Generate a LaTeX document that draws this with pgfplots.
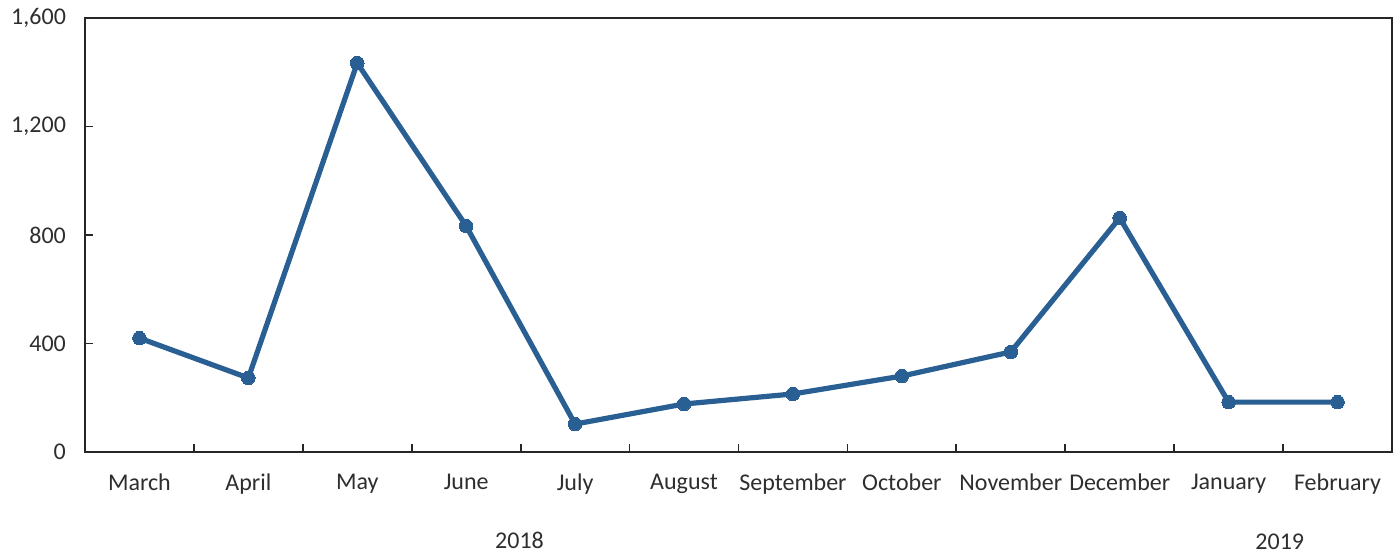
\documentclass[border=0pt]{standalone}
\usepackage{pgfplots}
\pgfplotsset{compat=1.18}
\usepackage{fontspec}
\setmainfont{Carlito}
\definecolor{lineblue}{HTML}{2A5F93}
\definecolor{txt}{HTML}{2E2E2E}
\begin{document}
\begin{tikzpicture}
\begin{axis}[
  scale only axis,
  width=653.5pt, height=217pt,
  xmin=-0.5, xmax=11.5,
  ymin=0, ymax=1600,
  ytick={0,400,800,1200,1600},
  xtick={0,...,11},
  xticklabels={March,April,May,June,July,August,September,October,November,December,January,February},
  minor xtick={0.5,1.5,...,10.5},
  major tick length=4pt,
  minor tick length=4pt,
  tick align=inside,
  tick pos=left,
  axis line style={line width=0.9pt, color=black!85},
  tick style={line width=0.9pt, color=black!85},
  major x tick style={draw=none},
  font=\fontsize{12}{14}\selectfont,
  ticklabel style={font=\fontsize{12}{14}\selectfont, text=txt},
  xticklabel style={yshift=-7.5pt},
  yticklabel style={xshift=-6pt},
  /pgf/number format/assume math mode=true,
  /pgf/number format/1000 sep={,},
  clip=false,
]
\addplot[lineblue, line width=2.6pt, mark=*, mark size=3.4pt,
  mark options={fill=lineblue, draw=lineblue, line width=0pt}]
  coordinates {
  (0,420) (1,273) (2,1434) (3,833) (4,103) (5,177)
  (6,214) (7,280) (8,369) (9,863) (10,184) (11,184)
};
\node[text=txt, font=\fontsize{12}{14}\selectfont] at (axis cs:3.49,0) [yshift=-44pt] {2018};
\node[text=txt, font=\fontsize{12}{14}\selectfont] at (axis cs:10.47,0) [yshift=-45pt] {2019};
\path (rel axis cs:-0.065,-0.235) rectangle (rel axis cs:1.0046,1.0415);
\end{axis}
\end{tikzpicture}
\end{document}
